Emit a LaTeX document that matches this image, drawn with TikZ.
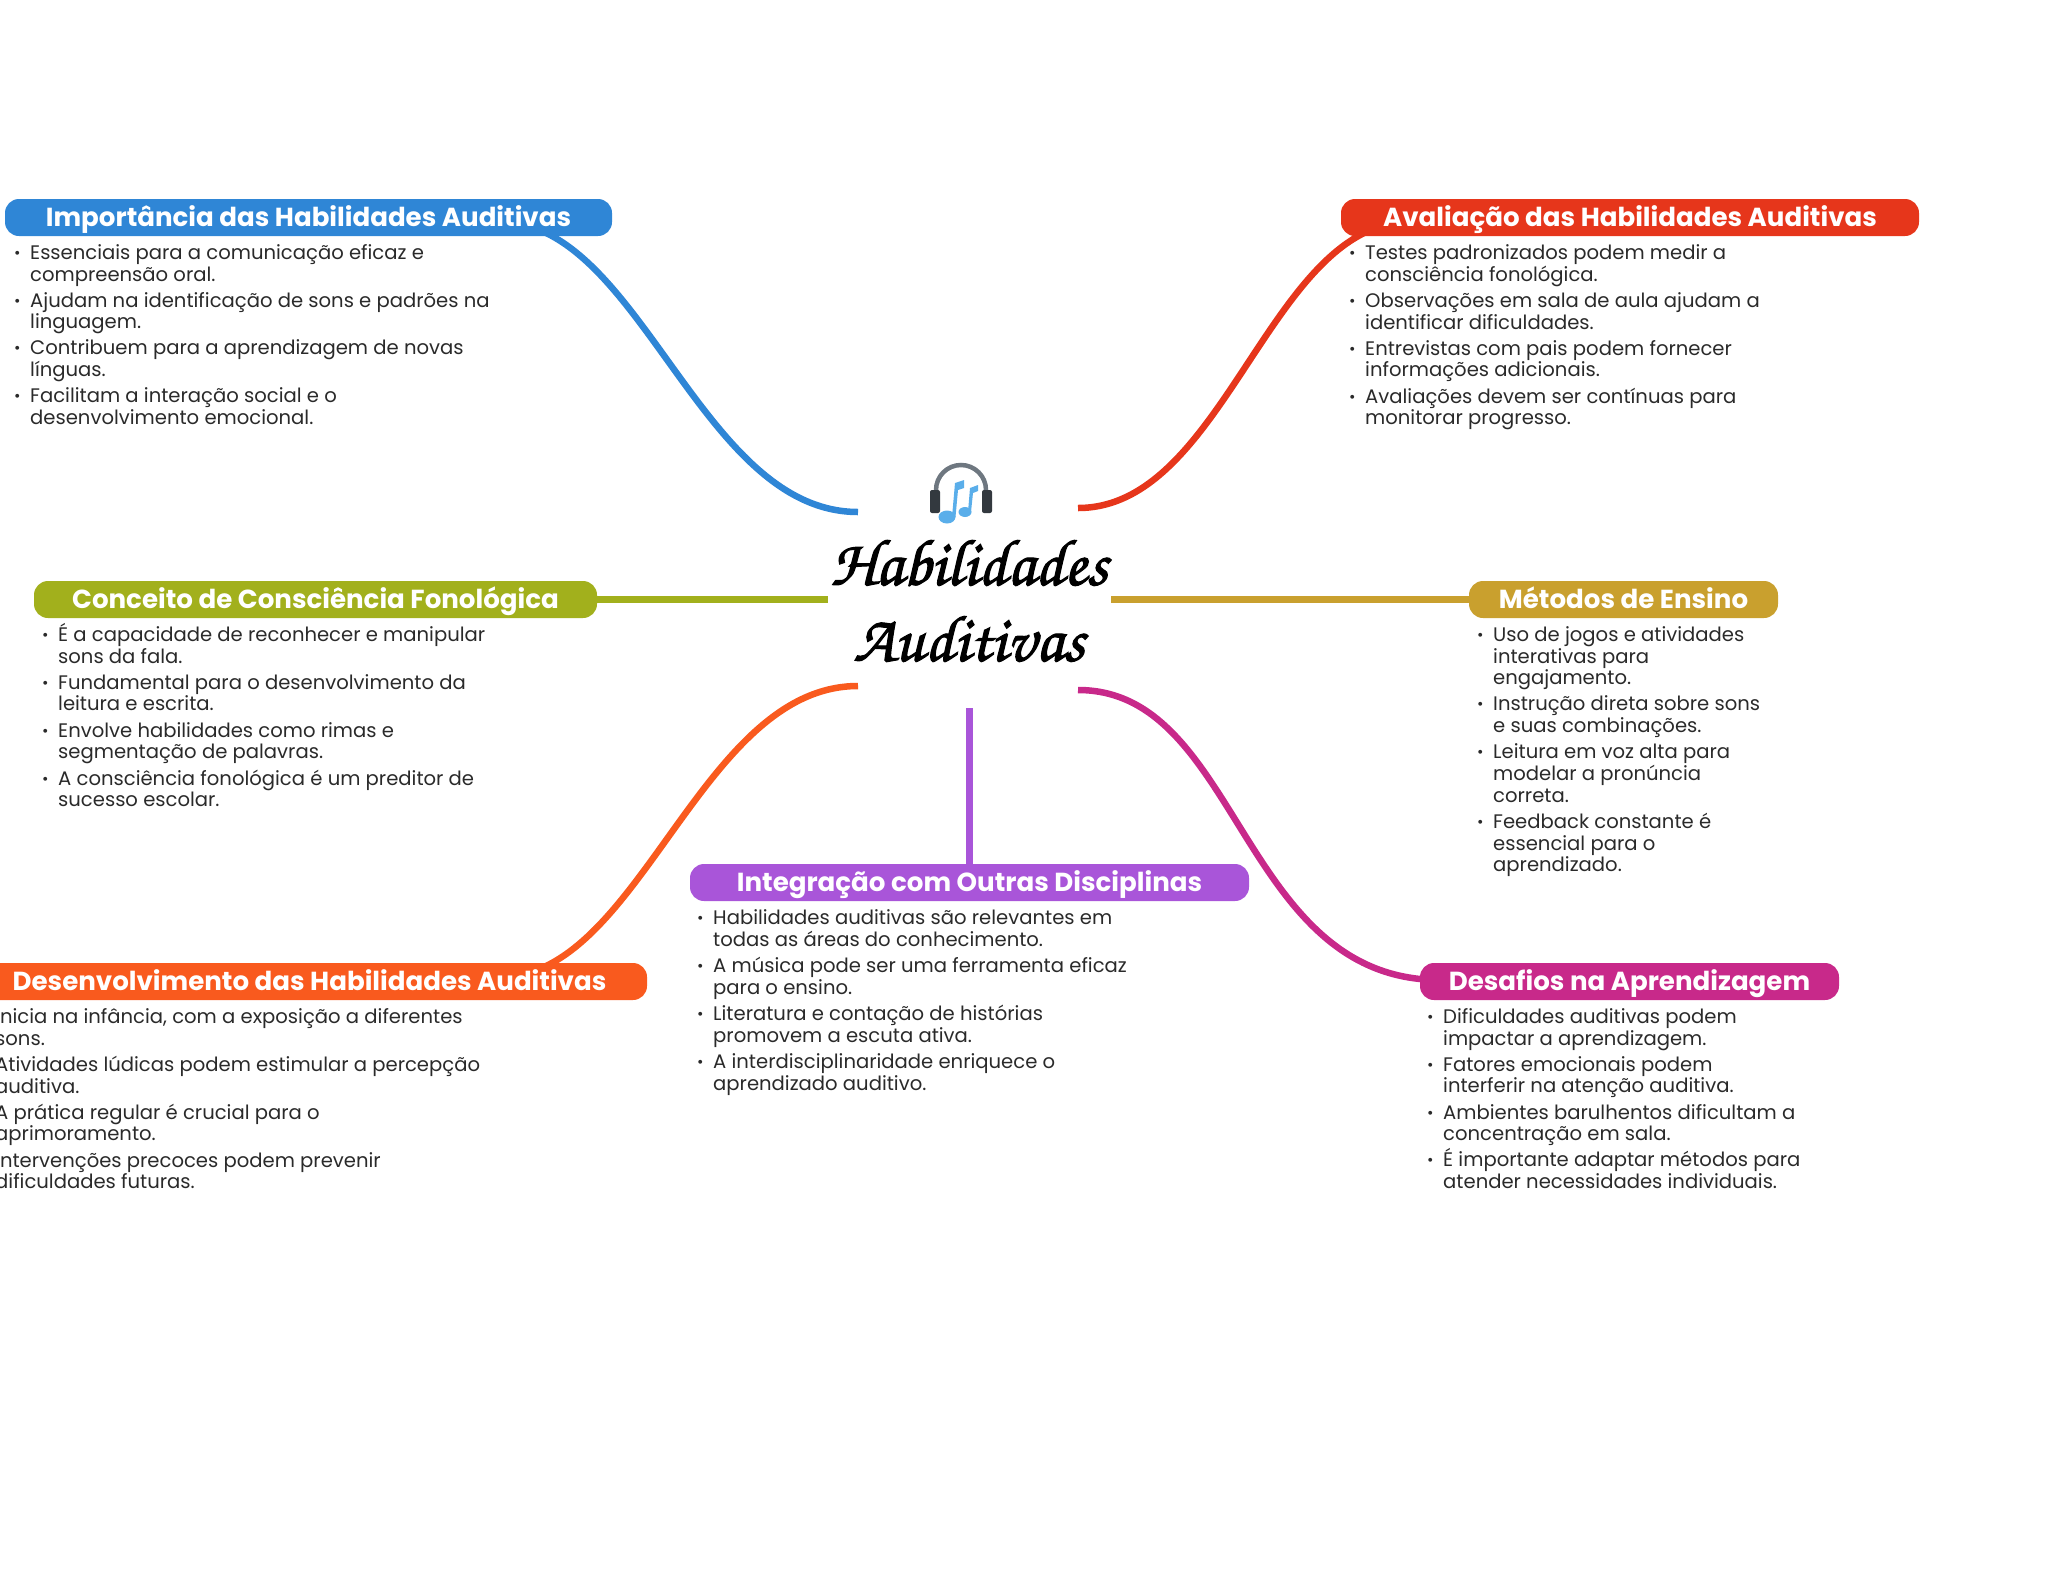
\documentclass[tikz,border=0pt]{standalone}
\usepackage{fontspec}
\setmainfont{Poppins}
\usepackage{array}
\definecolor{cblue}{HTML}{2F86D6}
\definecolor{cred}{HTML}{E6361B}
\definecolor{cgreen}{HTML}{A2B01C}
\definecolor{cgold}{HTML}{C9A02E}
\definecolor{cpurple}{HTML}{A955D9}
\definecolor{corange}{HTML}{F95A1E}
\definecolor{cmag}{HTML}{C8298A}
\definecolor{ctext}{HTML}{2A2A2A}
\definecolor{cnote}{HTML}{5AAEEA}
\definecolor{cband}{HTML}{6E7780}
\definecolor{ccup}{HTML}{33393F}
\newcommand{\hbx}[1]{\begin{tabular}{@{}>{\hspace{-1pt}}p{8pt}@{\hspace{7pt}}l@{}}#1\end{tabular}}
\newcommand{\hbi}{\raisebox{1pt}{\scalebox{.8}{•}}}
\newcommand{\hbl}{\\[4.4pt]}
\tikzset{
  x=1pt,y=-1pt,
  pill/.style={fill=#1,rounded corners=14pt,text=white,inner sep=0pt,minimum height=37pt,
    text height=20pt,text depth=3pt,
    font=\fontsize{26.1}{30}\selectfont\bfseries,anchor=center},
  bodytext/.style={anchor=north west,inner sep=0pt,text=ctext,font=\fontsize{19.6}{21.7}\selectfont},
  link/.style={draw=#1,line width=6.5pt},
  hubtext/.style={font=\fontsize{66}{76}\usefont{OT1}{pzc}{m}{it},align=center,inner sep=0pt,text=black}
}
\begin{document}
\begin{tikzpicture}
\useasboundingbox (0,0) rectangle (2048,1569);
% ends of connectors
\coordinate (hA) at (858,512);
\coordinate (hB) at (1078,508);
\coordinate (hC) at (828,599.5);
\coordinate (hD) at (1111,599.5);
\coordinate (hE) at (858,686);
\coordinate (hF) at (969.5,708);
\coordinate (hG) at (1078,690);
\coordinate (eA) at (500,222);
\coordinate (eB) at (1410,222);
\coordinate (eE) at (500,977);
\coordinate (eG) at (1440,980);
% connectors
\draw[link=cblue] (hA) .. controls (700,512) and (640,222) .. (eA);
\draw[link=cred] (hB) .. controls (1225,508) and (1270,222) .. (eB);
\draw[link=corange] (hE) .. controls (700,686) and (640,977) .. (eE);
\draw[link=cmag] (hG) .. controls (1240,690) and (1240,980) .. (eG);
% topic pills
\node[pill=cblue,minimum width=607pt] (blue) at (308.5,217.5) {Importância das Habilidades Auditivas};
\node[pill=cred,minimum width=578pt] (red) at (1630,217.5) {Avaliação das Habilidades Auditivas};
\node[pill=cgreen,minimum width=563pt] (green) at (315.5,599.5) {Conceito de Consciência Fonológica};
\node[pill=cgold,minimum width=309pt] (gold) at (1623.5,599.5) {Métodos de Ensino};
\node[pill=cpurple,minimum width=559pt] (purple) at (969.5,882.5) {Integração com Outras Disciplinas};
\node[pill=corange,minimum width=675pt] (orange) at (309.5,981.5) {Desenvolvimento das Habilidades Auditivas};
\node[pill=cmag,minimum width=419pt] (mag) at (1629.5,981.5) {Desafios na Aprendizagem};
\draw[link=cgreen] (green.east) -- (hC);
\draw[link=cgold] (hD) -- (gold.west);
\draw[link=cpurple] (hF) -- (purple.north);
% centre
\node[hubtext] (hub) at (969,600) {\special{pdf:code 2 Tr 1.1 w}Habilidades\\Auditivas\special{pdf:code 0 Tr 1 w}};
% icon
\draw[cband,line width=4.5pt] (936,490) arc[start angle=180,end angle=360,radius=25];
\fill[ccup,rounded corners=2pt] (930,490) rectangle (940,513);
\fill[ccup,rounded corners=2pt] (982,490) rectangle (992,513);
\fill[cnote] (947,517) ellipse[x radius=8.5,y radius=6.5];
\fill[cnote] (965,512) ellipse[x radius=6.5,y radius=5];
\fill[cnote] (952,517) -- (955,483) -- (964,480) -- (964,488) -- (958,490) -- (955.5,517) -- cycle;
\fill[cnote] (968,512) -- (970,488) -- (978,485) -- (978,491) -- (973,493) -- (971,512) -- cycle;
% bodies
\node[bodytext] (tblue) at (15,244) {\hbx{
\hbi & Essenciais para a comunicação eficaz e\\
 & compreensão oral.\hbl
\hbi & Ajudam na identificação de sons e padrões na\\
 & linguagem.\hbl
\hbi & Contribuem para a aprendizagem de novas\\
 & línguas.\hbl
\hbi & Facilitam a interação social e o\\
 & desenvolvimento emocional.}};
\node[bodytext] (tred) at (1350,244) {\hbx{
\hbi & Testes padronizados podem medir a\\
 & consciência fonológica.\hbl
\hbi & Observações em sala de aula ajudam a\\
 & identificar dificuldades.\hbl
\hbi & Entrevistas com pais podem fornecer\\
 & informações adicionais.\hbl
\hbi & Avaliações devem ser contínuas para\\
 & monitorar progresso.}};
\node[bodytext] (tgreen) at (43,626) {\hbx{
\hbi & \smash{É a capacidade de reconhecer e manipular}\\
 & sons da fala.\hbl
\hbi & Fundamental para o desenvolvimento da\\
 & leitura e escrita.\hbl
\hbi & Envolve habilidades como rimas e\\
 & segmentação de palavras.\hbl
\hbi & A consciência fonológica é um preditor de\\
 & sucesso escolar.}};
\node[bodytext] (tgold) at (1478,626) {\hbx{
\hbi & Uso de jogos e atividades\\
 & interativas para\\
 & engajamento.\hbl
\hbi & Instrução direta sobre sons\\
 & e suas combinações.\hbl
\hbi & Leitura em voz alta para\\
 & modelar a pronúncia\\
 & correta.\hbl
\hbi & Feedback constante é\\
 & essencial para o\\
 & aprendizado.}};
\node[bodytext] (tpurple) at (698,909) {\hbx{
\hbi & Habilidades auditivas são relevantes em\\
 & todas as áreas do conhecimento.\hbl
\hbi & A música pode ser uma ferramenta eficaz\\
 & para o ensino.\hbl
\hbi & Literatura e contação de histórias\\
 & promovem a escuta ativa.\hbl
\hbi & A interdisciplinaridade enriquece o\\
 & aprendizado auditivo.}};
\node[bodytext] (torange) at (-20,1008) {\hbx{
\hbi & Inicia na infância, com a exposição a diferentes\\
 & sons.\hbl
\hbi & Atividades lúdicas podem estimular a percepção\\
 & auditiva.\hbl
\hbi & A prática regular é crucial para o\\
 & aprimoramento.\hbl
\hbi & Intervenções precoces podem prevenir\\
 & dificuldades futuras.}};
\node[bodytext] (tmag) at (1428,1008) {\hbx{
\hbi & Dificuldades auditivas podem\\
 & impactar a aprendizagem.\hbl
\hbi & Fatores emocionais podem\\
 & interferir na atenção auditiva.\hbl
\hbi & Ambientes barulhentos dificultam a\\
 & concentração em sala.\hbl
\hbi & \smash{É importante adaptar métodos para}\\
 & atender necessidades individuais.}};
\end{tikzpicture}
\end{document}
